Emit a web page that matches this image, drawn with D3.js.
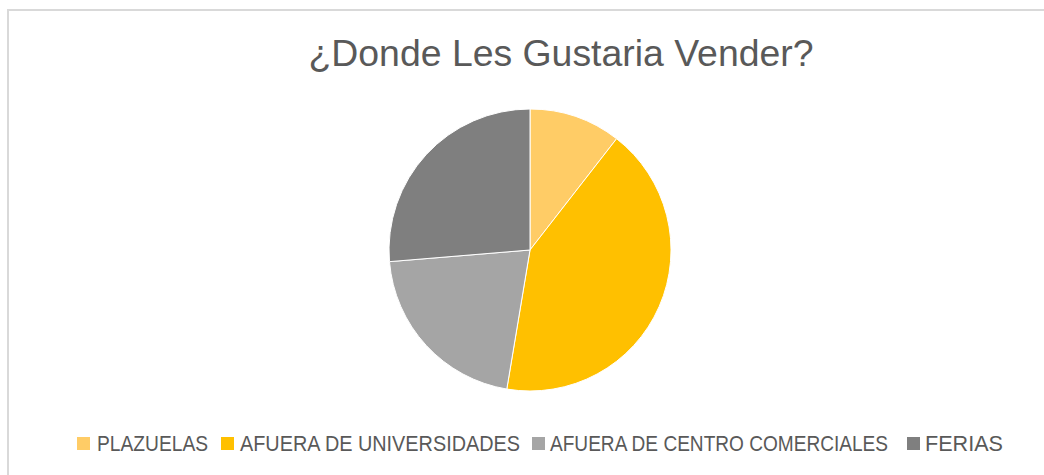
<!DOCTYPE html>
<html><head><meta charset="utf-8">
<script src="https://cdn.jsdelivr.net/npm/d3@7"></script>
<style>body{margin:0;background:#fff;}svg{display:block;}</style>
</head><body>
<svg id="c" width="1044" height="475"></svg>
<script>
const title = "¿Donde Les Gustaria Vender?";
const categories = ["PLAZUELAS", "AFUERA DE UNIVERSIDADES", "AFUERA DE CENTRO COMERCIALES", "FERIAS"];
const values = [4, 16, 8, 10];
const colors = ["#FFCC66", "#FFC000", "#A5A5A5", "#7F7F7F"];

const svg = d3.select("#c");
svg.append("rect").attr("x", 8).attr("y", 10).attr("width", 1100).attr("height", 500)
  .attr("fill", "#fff").attr("stroke", "#D9D9D9").attr("stroke-width", 2);

svg.append("text").attr("x", 561).attr("y", 66).attr("text-anchor", "middle")
  .attr("font-family", "Liberation Sans, Arial, sans-serif").attr("font-size", 37)
  .attr("fill", "#595959").attr("textLength", 505).attr("lengthAdjust", "spacingAndGlyphs")
  .text(title);

const data = categories.map((c, i) => ({cat: c, v: values[i], col: colors[i]}));
const pie = d3.pie().value(d => d.v).sort(null);
const arc = d3.arc().innerRadius(0).outerRadius(141);
const g = svg.append("g").attr("transform", "translate(530,250)");
g.selectAll("path").data(pie(data)).join("path")
  .attr("d", arc).attr("fill", d => d.data.col)
  .attr("stroke", "#fff").attr("stroke-width", 1);

const legendX = [77, 221, 532, 907];
const textX = [97, 240, 550, 925];
const textW = [111, 280, 338, 78];
const lg = svg.append("g");
data.forEach((d, i) => {
  lg.append("rect").attr("x", legendX[i]).attr("y", 437).attr("width", 13).attr("height", 13).attr("fill", d.col);
  lg.append("text").attr("transform", `translate(${textX[i]},451) scale(1,1.16)`)
    .attr("font-family", "Liberation Sans, Arial, sans-serif").attr("font-size", 19)
    .attr("fill", "#595959").attr("textLength", textW[i]).attr("lengthAdjust", "spacingAndGlyphs")
    .text(d.cat);
});
</script>
</body></html>
